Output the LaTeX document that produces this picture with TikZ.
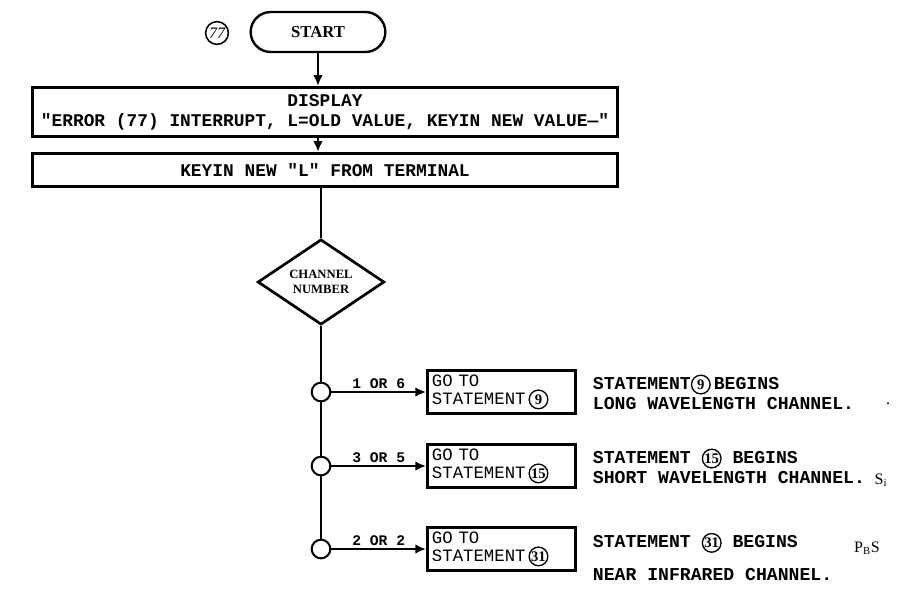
\documentclass[tikz,border=0pt]{standalone}
\usepackage{fontspec}
\setmainfont{Liberation Serif}
\setmonofont{Liberation Mono}
\usepackage{tikz}
\usetikzlibrary{arrows.meta,positioning,shapes.geometric}
\newcommand{\cnum}[1]{\tikz[baseline]\node[shape=circle,anchor=base,draw,sharp corners,text width={},align=center,
  minimum width=0pt,minimum height=0pt,minimum size=14pt,inner sep=0pt,line width=1pt,
  font=\rmfamily\bfseries\fontsize{11}{11}\selectfont]{#1};}
\tikzset{
  term/.style={draw,line width=1.8pt,rounded corners=15pt,minimum width=101pt,minimum height=30pt,
    font=\rmfamily\bfseries\fontsize{12.5}{14}\selectfont},
  wide/.style={draw,line width=2.3pt,minimum width=439pt,align=center,
    font=\ttfamily\bfseries\fontsize{13.4}{15}\selectfont},
  choice/.style={draw,diamond,line width=2pt,aspect=1.5,minimum width=95pt,minimum height=64pt,
    inner sep=0pt,align=center,font=\rmfamily\bfseries\fontsize{9.5}{11}\selectfont},
  tap/.style={draw,circle,line width=1.5pt,minimum size=14pt,inner sep=0pt},
  goto/.style={draw,line width=2.3pt,minimum height=30pt,text width=104pt,align=left,
    font=\ttfamily\fontsize{13}{13.5}\selectfont},
  note/.style={align=left,inner sep=0pt,font=\ttfamily\bfseries\fontsize{13.6}{15}\selectfont},
  case/.style={font=\ttfamily\bfseries\fontsize{11}{12}\selectfont,inner sep=2pt},
  stray/.style={font=\rmfamily\fontsize{12}{12}\selectfont,inner sep=0pt},
  arrow/.style={-{Latex[length=2.8mm,width=2.5mm]},line width=1.5pt},
  link/.style={line width=1.5pt}
}
\begin{document}
\begin{tikzpicture}[x=0.75pt,y=-0.75pt]
\useasboundingbox (0,0) rectangle (907,604);
\node[term] (st) at (318,32) {START};
\node[draw,circle,line width=1.2pt,inner sep=1pt,font=\itshape\fontsize{12}{12}\selectfont] (n77) at (217,33) {77};
\node[wide,minimum height=37pt] (disp) at (325,112) {DISPLAY\\"ERROR (77) INTERRUPT, L=OLD VALUE, KEYIN NEW VALUE—"};
\node[wide,minimum height=25pt] (key) at (325,170) {KEYIN NEW "L" FROM TERMINAL};
\node[choice] (ch) at (321,282) {CHANNEL\\NUMBER};
\node[tap] (o1) at (321,392) {};
\node[tap] (o2) at (321,466) {};
\node[tap] (o3) at (321,549) {};
\node[goto,right=71pt of o1] (g1) {GO\,\,TO\\STATEMENT\,\cnum{9}};
\node[goto,right=71pt of o2] (g2) {GO\,\,TO\\STATEMENT\,\cnum{15}};
\node[goto,right=71pt of o3] (g3) {GO\,\,TO\\STATEMENT\,\cnum{31}};
\node[note,right=12pt of g1] (t1) {STATEMENT\cnum{9}\,BEGINS\\LONG WAVELENGTH CHANNEL.};
\node[note,right=12pt of g2] (t2) {STATEMENT \cnum{15} BEGINS\\SHORT WAVELENGTH CHANNEL.};
\node[note,right=12pt of g3,yshift=-6pt] (t3) {STATEMENT \cnum{31} BEGINS\\[10pt]NEAR INFRARED CHANNEL.};
\node[stray] (si) at (881,480) {S\textsubscript{i}};
\node[stray] (pbs) at (867,548) {P\textsubscript{B}S};
\node[stray] (dot) at (888,404) {.};
\draw[arrow] (st) -- (st |- disp.north);
\draw[arrow] (st |- disp.south) -- (st |- key.north);
\draw[link] (ch |- key.south) -- (ch);
\draw[link] (ch) -- (o1) -- (o2) -- (o3);
\draw[arrow] (o1) -- node[case,above] (c1) {1 OR 6} (g1);
\draw[arrow] (o2) -- node[case,above] (c2) {3 OR 5} (g2);
\draw[arrow] (o3) -- node[case,above] (c3) {2 OR 2} (g3);
\end{tikzpicture}
\end{document}
